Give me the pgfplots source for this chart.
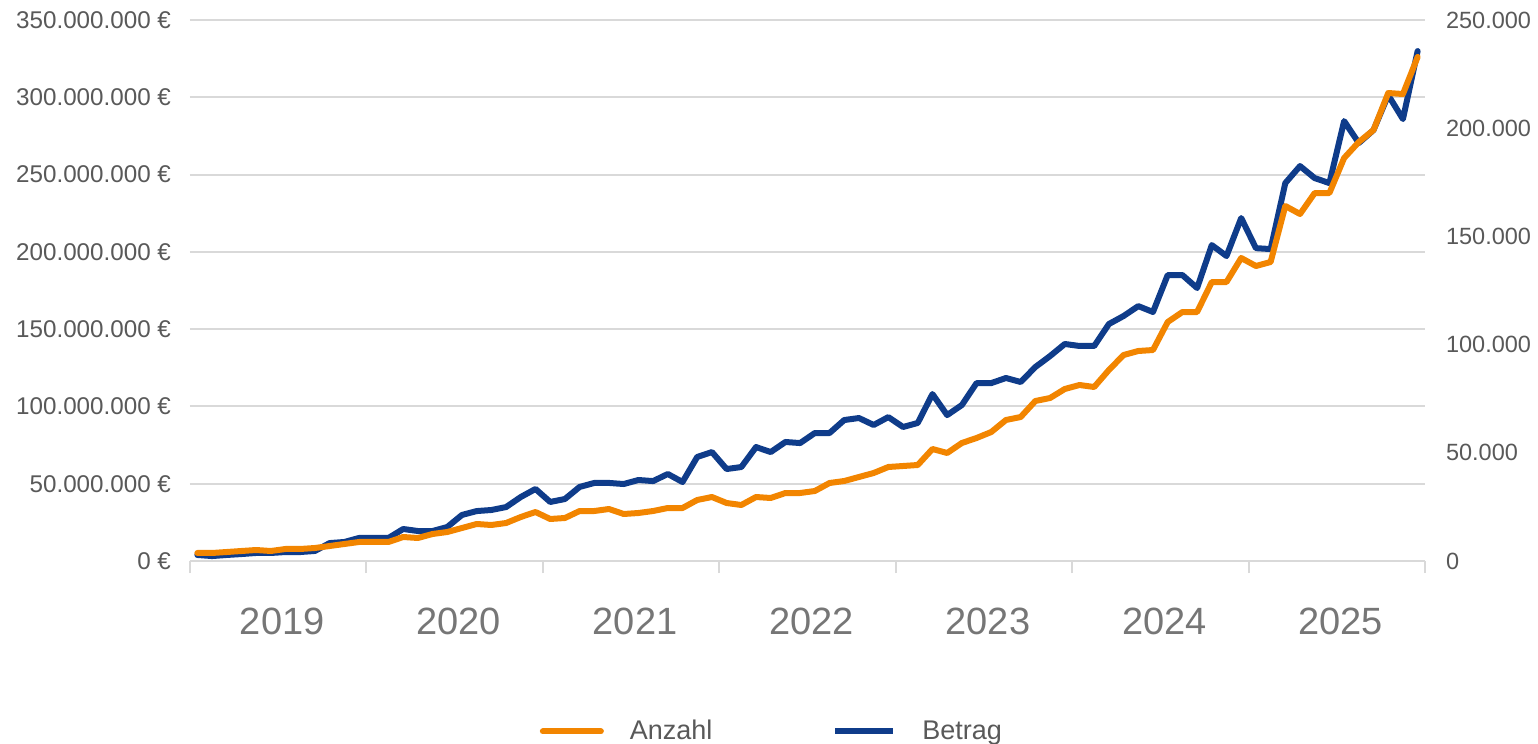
\documentclass[border=0pt]{standalone}
\usepackage{pgfplots}
\usepackage{pgfplotstable}
\pgfplotsset{compat=1.18}
\usepackage{fontspec}
\setmainfont{Liberation Sans}

\definecolor{anz}{RGB}{242,133,0}
\definecolor{bet}{RGB}{15,60,138}
\definecolor{gridc}{RGB}{217,217,217}
\definecolor{tickc}{RGB}{89,89,89}
\definecolor{yearc}{RGB}{118,118,118}

% month index (0 = Jan 2019), Betrag in Mio. EUR, Anzahl
\pgfplotstableread{
m betrag anzahl
0 3.9 3700
1 3.2 3700
2 3.9 4160
3 4.5 4620
4 5.2 5080
5 5.2 4620
6 5.8 5550
7 5.8 5550
8 6.5 6010
9 11.6 6930
10 12.3 7860
11 14.9 8780
12 14.9 8780
13 14.9 8780
14 20.7 11090
15 19.4 10630
16 19.4 12480
17 22.0 13400
18 29.8 15250
19 32.3 17100
20 33.0 16640
21 34.9 17560
22 41.4 20330
23 46.6 22640
24 38.2 19410
25 40.1 19870
26 47.9 23100
27 50.5 23100
28 50.5 24030
29 49.8 21720
30 52.4 22180
31 51.7 23100
32 56.3 24490
33 51.1 24490
34 67.3 28190
35 70.5 29570
36 59.5 26800
37 60.8 25880
38 73.7 29570
39 70.5 29110
40 77.0 31420
41 76.3 31420
42 82.8 32350
43 82.8 36040
44 91.2 36970
45 92.5 38820
46 88.0 40660
47 93.1 43440
48 86.7 43900
49 89.3 44360
50 108.0 51760
51 94.4 49910
52 100.9 54530
53 115.1 56840
54 115.1 59610
55 118.4 65160
56 115.8 66540
57 125.5 73940
58 132.6 75320
59 140.4 79480
60 139.1 81330
61 139.1 80410
62 153.3 88260
63 158.5 95190
64 164.9 97040
65 161.1 97500
66 185.0 110440
67 185.0 115060
68 176.6 115060
69 204.4 128920
70 197.3 128920
71 221.9 140020
72 202.4 136320
73 201.8 138170
74 244.5 164050
75 255.5 160350
76 247.7 170050
77 244.5 170050
78 284.6 186230
79 270.4 193620
80 278.8 199170
81 301.4 216260
82 285.9 215800
83 329.9 232900
}\data

\begin{document}
\begin{tikzpicture}
\pgfplotsset{
  every axis/.append style={
    scale only axis, width=617.5pt, height=270.5pt,
    xmin=-0.5, xmax=83.5, ymin=0,
    axis line style={draw=none},
    major tick length=0pt,
    scaled y ticks=false,
    tick label style={font=\fontsize{11.75pt}{14pt}\selectfont, text=tickc},
  },
}
\begin{axis}[
  ymax=350,
  ymajorgrids, grid style={gridc, line width=1pt},
  ytick={0,50,...,350},
  yticklabels={0 €,50.000.000 €,100.000.000 €,150.000.000 €,200.000.000 €,250.000.000 €,300.000.000 €,350.000.000 €},
  ytick pos=left,
  yticklabel style={xshift=-6pt, font=\fontsize{12.1pt}{14pt}\selectfont},
  xtick={5.5,17.5,...,77.5},
  xticklabels={2019,2020,2021,2022,2023,2024,2025},
  minor xtick={-0.5,11.5,...,83.5},
  minor tick length=6pt,
  minor x tick style={gridc, line width=1pt},
  tick align=outside,
  xtick pos=left,
  xticklabel style={font=\fontsize{19pt}{22pt}\selectfont, text=yearc, yshift=-20pt, xshift=2pt},
]
\addplot [bet, line width=3pt, line join=round, line cap=round] table [x=m, y=betrag] {\data};
\end{axis}
\begin{axis}[
  ymax=250000,
  xtick=\empty,
  ytick={0,50000,...,250000},
  yticklabels={0,50.000,100.000,150.000,200.000,250.000},
  ytick pos=right,
  yticklabel style={xshift=7pt},
  legend style={at={(0.472,-0.315)}, anchor=center, draw=none, fill=none,
    legend columns=2, font=\fontsize{13.5pt}{15pt}\selectfont, text=tickc,
    /tikz/every odd column/.append style={column sep=11pt},
    /tikz/every even column/.append style={column sep=58pt}},
  legend image code/.code={\draw[#1, line width=3pt] (0pt,0pt) -- (29pt,0pt);},
]
\addplot [anz, line width=3pt, line join=round, line cap=round] table [x=m, y=anzahl] {\data};
\addlegendentry{Anzahl}
\addlegendimage{bet, line width=3pt}
\addlegendentry{Betrag}
\end{axis}
\pgfresetboundingbox
\path (-95pt,-91.5pt) rectangle (674pt,280.5pt);
\end{tikzpicture}
\end{document}
